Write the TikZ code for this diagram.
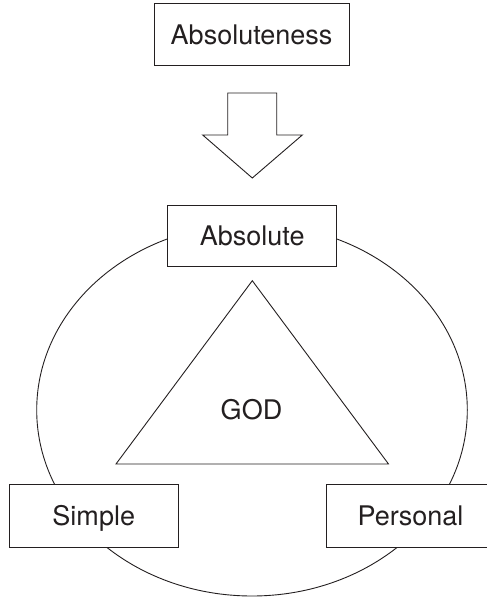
\documentclass[tikz,border=0pt]{standalone}
\usepackage{fontspec}
\setmainfont{TeX Gyre Heros}
\definecolor{ink}{HTML}{231F20}
\begin{document}
\begin{tikzpicture}[x=1pt,y=-1pt,line width=0.9pt,
  labelbox/.style={draw=ink,fill=white,rectangle,inner sep=0pt,
    minimum height=62.5pt,text height=19.4pt,text depth=0pt,text=ink,
    font=\fontsize{27}{32}\selectfont},
  plainlabel/.style={inner sep=0pt,text height=19.4pt,text depth=0pt,text=ink,
    font=\fontsize{27}{32}\selectfont}]
\useasboundingbox (0,0) rectangle (487,597);
\clip (0,0) rectangle (487,597);
% ellipse
\draw[ink] (252,410) ellipse [x radius=215.3, y radius=186];
% top box
\node[labelbox,minimum width=195pt] (absness) at (251.5,34.5) {Absoluteness};
% block arrow
\coordinate (arrtop) at (252.3,93);
\coordinate (arrtip) at (252.3,178);
\draw[ink,line join=miter] (227.7,93) -- (276.7,93) -- (276.7,135) -- (302.3,135)
   -- (arrtip) -- (202.7,135) -- (227.7,135) -- cycle;
% triangle
\coordinate (tA) at (252.3,280.7);
\coordinate (tB) at (116,464);
\coordinate (tC) at (388.5,464);
\draw[ink,line join=miter] (tA) -- (tB) -- (tC) -- cycle;
\node[plainlabel] (god) at (251.5,409.6) {GOD};
% boxes on ellipse
\node[labelbox,minimum width=169pt,minimum height=61.7pt] (absolute) at (252.2,235.9) {Absolute};
\node[labelbox,minimum width=169.3pt,minimum height=63pt] (simple) at (93.7,516.2) {Simple};
\node[labelbox,minimum width=169pt,minimum height=63pt] (personal) at (410.5,516.2) {Personal};
\end{tikzpicture}
\end{document}
